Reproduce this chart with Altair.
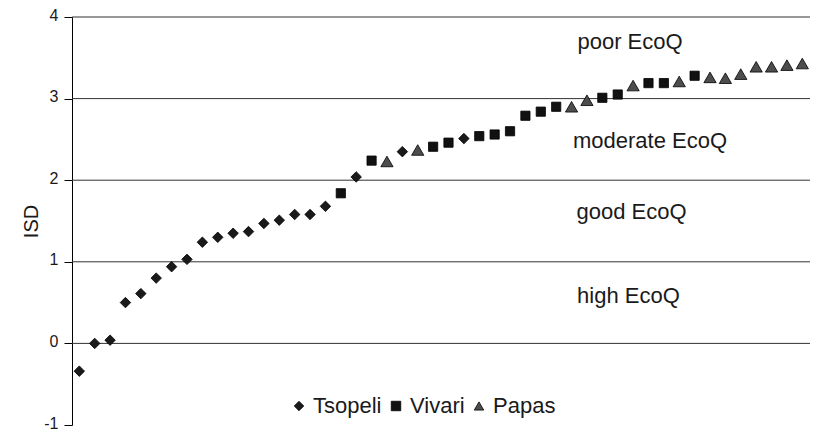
import altair as alt
import pandas as pd

# sample order (x index), site, ISD value
site = [
    "Tsopeli", "Tsopeli", "Tsopeli", "Tsopeli", "Tsopeli", "Tsopeli", "Tsopeli", "Tsopeli",
    "Tsopeli", "Tsopeli", "Tsopeli", "Tsopeli", "Tsopeli", "Tsopeli", "Tsopeli", "Tsopeli",
    "Tsopeli", "Vivari", "Tsopeli", "Vivari", "Papas", "Tsopeli", "Papas", "Vivari",
    "Vivari", "Tsopeli", "Vivari", "Vivari", "Vivari", "Vivari", "Vivari", "Vivari",
    "Papas", "Papas", "Vivari", "Vivari", "Papas", "Vivari", "Vivari", "Papas",
    "Vivari", "Papas", "Papas", "Papas", "Papas", "Papas", "Papas", "Papas", "Papas",
]
isd = [
    -0.34, 0.00, 0.04, 0.50, 0.61, 0.80, 0.94, 1.03,
    1.24, 1.30, 1.35, 1.37, 1.47, 1.51, 1.58, 1.58,
    1.68, 1.84, 2.04, 2.24, 2.23, 2.35, 2.37, 2.41,
    2.46, 2.51, 2.54, 2.56, 2.60, 2.79, 2.84, 2.90,
    2.90, 2.98, 3.01, 3.05, 3.16, 3.19, 3.19, 3.21,
    3.28, 3.26, 3.25, 3.30, 3.39, 3.39, 3.41, 3.43, 3.41,
]
order = list(range(1, len(isd) + 1))

sites = ["Tsopeli", "Vivari", "Papas"]
site_shapes = ["diamond", "square", "triangle-up"]
site_fills = ["#1a1a1a", "#111111", "#4d4d4d"]
site_sizes = [110, 85, 150]

gridlines = [0, 1, 2, 3, 4]
y_ticks = [-1, 0, 1, 2, 3, 4]

zone_labels = ["poor EcoQ", "moderate EcoQ", "good EcoQ", "high EcoQ"]
zone_x = [36.8, 38.1, 36.9, 36.7]
zone_y = [3.61, 2.40, 1.52, 0.49]

df = pd.DataFrame({"order": order, "site": site, "ISD": isd})
df["sz"] = df["site"].map(dict(zip(sites, site_sizes)))
grid_df = pd.DataFrame({"g": gridlines})
zone_df = pd.DataFrame({"label": zone_labels, "x": zone_x, "y": zone_y})

FONT = "Liberation Sans"
xscale = alt.Scale(domain=[0.525, 48.5], nice=False, zero=False)
yscale = alt.Scale(domain=[-1, 4], nice=False, zero=False)

yaxis = alt.Axis(
    values=y_ticks,
    title="ISD",
    grid=False,
    labelExpr="'' + datum.value",
    domainColor="#000000",
    tickColor="#000000",
    tickSize=8,
    labelPadding=6,
    labelOffset=-2,
    labelFontSize=16,
    labelFont=FONT,
    labelColor="#1a1a1a",
    titleFont=FONT,
    titleFontSize=20,
    titleFontWeight="normal",
    titleColor="#1a1a1a",
    titlePadding=2,
)

grid = alt.Chart(grid_df).mark_rule(color="#333333", strokeWidth=1).encode(
    y=alt.Y("g:Q", scale=yscale, axis=yaxis)
)

points = alt.Chart(df).mark_point(
    filled=True, stroke="#000000", strokeWidth=0.8, opacity=1, clip=True
).encode(
    x=alt.X("order:Q", scale=xscale, axis=None),
    y=alt.Y("ISD:Q", scale=yscale, axis=yaxis),
    shape=alt.Shape("site:N", scale=alt.Scale(domain=sites, range=site_shapes), sort=sites),
    color=alt.Color("site:N", scale=alt.Scale(domain=sites, range=site_fills), sort=sites),
    size=alt.Size("sz:Q", scale=None),
)

labels = alt.Chart(zone_df).mark_text(
    font=FONT, fontSize=22, color="#1a1a1a", align="center", baseline="alphabetic"
).encode(
    x=alt.X("x:Q", scale=xscale, axis=None),
    y=alt.Y("y:Q", scale=yscale, axis=yaxis),
    text="label:N",
)

chart = alt.layer(grid, points, labels).resolve_scale(
    shape="shared", color="shared"
).properties(
    width=738,
    height=408,
    autosize=alt.AutoSizeParams(type="none"),
    padding={"left": 64, "top": 9, "right": 0, "bottom": 5},
).configure_view(stroke=None).configure_legend(
    orient="none",
    legendX=216,
    legendY=378,
    direction="horizontal",
    title=None,
    labelFont=FONT,
    labelFontSize=22,
    labelColor="#1a1a1a",
    labelOffset=3,
    columnPadding=3,
    padding=0,
    symbolSize=90,
    symbolStrokeColor="#000000",
    symbolStrokeWidth=0.8,
    labelLimit=300,
)

chart.save("out.html", embed_options={"renderer": "svg", "actions": False})
